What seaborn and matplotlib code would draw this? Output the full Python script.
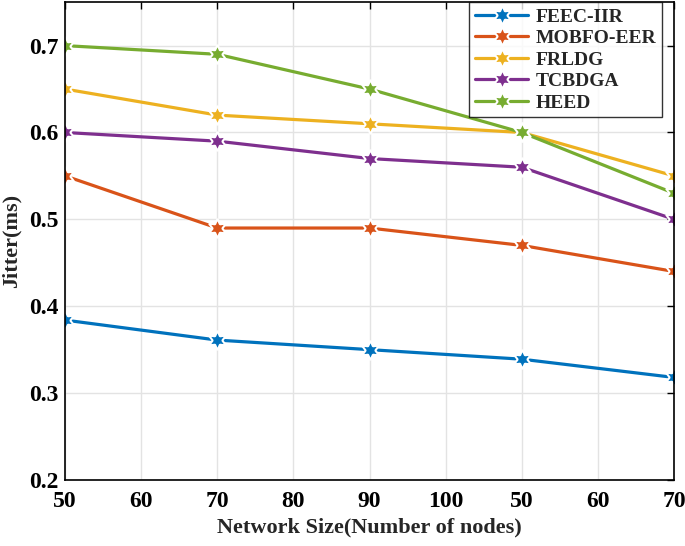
import matplotlib
matplotlib.use("Agg")
import matplotlib.pyplot as plt
import seaborn as sns
import pandas as pd

x_vals = [50, 70, 90, 110, 130]
tick_pos = [50, 60, 70, 80, 90, 100, 110, 120, 130]
tick_labels = ["50", "60", "70", "80", "90", "100", "50", "60", "70"]
series_names = ["FEEC-IIR", "MOBFO-EER", "FRLDG", "TCBDGA", "HEED"]
feec = [0.384, 0.361, 0.350, 0.339, 0.318]
mobfo = [0.550, 0.490, 0.490, 0.470, 0.440]
frldg = [0.650, 0.620, 0.610, 0.600, 0.550]
tcbdga = [0.600, 0.590, 0.570, 0.560, 0.500]
heed = [0.700, 0.690, 0.650, 0.600, 0.530]
colors = ["#0072BD", "#D95319", "#EDB120", "#7E2F8E", "#77AC30"]

rows = []
for name, vals in zip(series_names, [feec, mobfo, frldg, tcbdga, heed]):
    for xv, yv in zip(x_vals, vals):
        rows.append({"x": xv, "y": yv, "series": name})
df = pd.DataFrame(rows)

sns.set_style("white")
plt.rcParams["font.family"] = ["Liberation Serif", "DejaVu Serif"]
plt.rcParams["font.weight"] = "bold"

fig = plt.figure(figsize=(6.85, 5.46), dpi=100)
ax = fig.add_axes([0.095, 0.121, 0.889, 0.875])

sns.lineplot(data=df, x="x", y="y", hue="series", hue_order=series_names,
             palette=colors, marker=(6, 1, 0), markersize=14, linewidth=2.3,
             markeredgewidth=1.5, ax=ax)

ax.set_xlim(50, 130)
ax.set_ylim(0.2, 0.75)
ax.set_xticks(tick_pos)
ax.set_xticklabels(tick_labels)
ax.set_yticks([0.2, 0.3, 0.4, 0.5, 0.6, 0.7])
ax.set_yticklabels(["0.2", "0.3", "0.4", "0.5", "0.6", "0.7"])
ax.tick_params(direction="in", length=5, width=1, labelsize=17, top=True, right=True,
               colors="black")
ax.tick_params(axis="x", pad=8)
ax.tick_params(axis="y", pad=5)
for lab in ax.get_xticklabels() + ax.get_yticklabels():
    lab.set_fontweight("bold")
ax.grid(True, color="#e3e3e3", linewidth=1)
for s in ax.spines.values():
    s.set_color("black")
    s.set_linewidth(1.2)
ax.set_xlabel("Network Size(Number of nodes)", fontsize=16, fontweight="bold", labelpad=4)
ax.set_ylabel("Jitter(ms)", fontsize=16, fontweight="bold", labelpad=5)

leg = ax.legend(loc="upper right", bbox_to_anchor=(1 - 12 / 609, 1.0), fontsize=14,
                frameon=True, fancybox=False,
                handlelength=2.7, borderpad=0.3, labelspacing=0.2,
                handletextpad=0.4, borderaxespad=0.0)
leg.get_frame().set_edgecolor("black")
leg.get_frame().set_linewidth(1)
for t in leg.get_texts():
    t.set_fontweight("bold")

fig.savefig("out.png", dpi=100)
